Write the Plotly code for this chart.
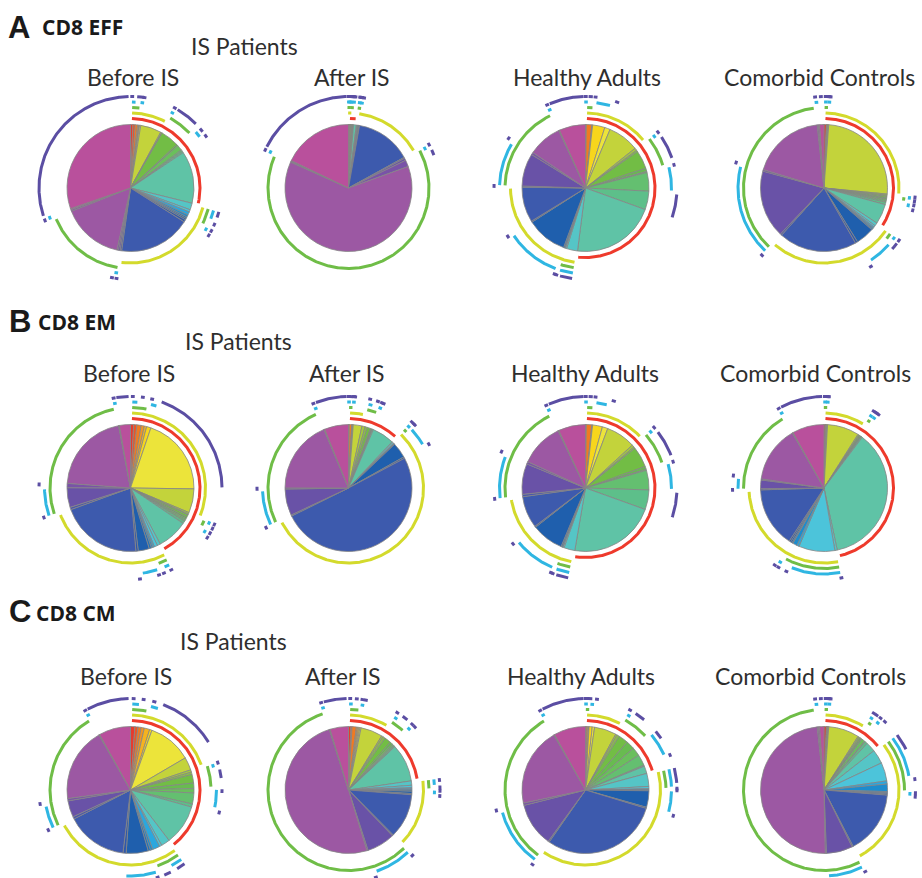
import numpy as np
import plotly.graph_objects as go

W, H = 922, 878

# Boolean subsets of five markers (+ = positive), all-negative subset excluded
CATEGORIES = [
    "+++++", "++++-", "+++-+", "+++--", "++-++", "++-+-", "++--+", "++---",
    "+-+++", "+-++-", "+-+-+", "+-+--", "+--++", "+--+-", "+---+", "+----",
    "-++++", "-+++-", "-++-+", "-++--", "-+-++", "-+-+-", "-+--+", "-+---",
    "--+++", "--++-", "--+-+", "--+--", "---++", "---+-", "----+",
]

PALETTE = [
    "#e63b2e", "#eb5527", "#f07a22", "#f39621", "#f5b31f", "#f7d61c", "#ece43a", "#c3d33b",
    "#a6ca3d", "#8cc342", "#72bd45", "#68bb50", "#6abf5c", "#64bf70", "#5dbf8a", "#5fc3a6",
    "#55c5c6", "#4cc4da", "#2ba7de", "#1d8ccd", "#1f72bb", "#1f5fad", "#3058aa", "#3d5aad",
    "#4b56ab", "#6952a7", "#7953a7", "#9c58a3", "#8a55a5", "#a656a1", "#b9509c",
]

# arc colour for each marker, innermost ring first
RING_COLORS = ["#ee3a2c", "#d3da2c", "#6fbd47", "#2fb6e2", "#5b4ea3"]

GROUPS = ["Before IS", "After IS", "Healthy Adults", "Comorbid Controls"]
PANELS = [("A", "CD8 EFF"), ("B", "CD8 EM"), ("C", "CD8 CM")]
SUPER_TITLE = "IS Patients"

# % of cells in each subset
EFF_BEFORE = [0.6, 0.6, 0.6, 0.3, 0.1, 0.1, 0.3, 5.3, 0.3, 0.1, 4.7, 0.4, 1.4, 0.4, 0.4, 13.3,
              1.7, 0.6, 0.8, 0.6, 0.4, 0.4, 0.6, 18.3, 0.4, 0.4, 0.4, 15.6, 0.4, 0.3, 30.3]
EFF_AFTER = [0.08, 0.06, 0.06, 0.06, 0.06, 0.06, 0.06, 0.08, 0.06, 0.06, 0.22, 0.06, 0.14, 0.08, 0.14, 0.69,
             0.14, 0.08, 0.08, 0.08, 0.08, 0.22, 0.14, 14.2, 0.28, 0.56, 1.67, 62.2, 0.28, 0.14, 17.9]
EFF_HEALTHY = [0.1, 0.1, 1.4, 0.1, 0.1, 3.1, 1.4, 7.9, 0.6, 0.4, 4.7, 0.8, 0.3, 4.7, 4.7, 21.4,
               2.8, 0.3, 0.1, 0.1, 0.3, 10.3, 0.3, 8.9, 0.3, 8.3, 0.6, 8.6, 0.1, 0.1, 6.7]
EFF_COMORBID = [0.6, 0.1, 0.1, 0.1, 0.1, 0.1, 0.1, 25.3, 0.3, 0.3, 0.4, 0.3, 0.4, 0.4, 0.6, 5.1,
                0.8, 0.4, 0.3, 0.3, 0.3, 4.7, 0.6, 19.9, 0.4, 17.2, 0.4, 18.6, 0.3, 0.3, 1.1]

EM_BEFORE = [0.8, 0.8, 1.1, 0.8, 0.6, 1.1, 20.0, 6.1, 0.4, 0.3, 0.6, 0.4, 0.4, 0.4, 0.6, 7.8,
             0.8, 0.8, 0.4, 0.4, 0.6, 2.8, 0.6, 20.8, 0.6, 5.0, 1.1, 20.8, 0.1, 0.1, 2.8]
EM_AFTER = [0.1, 0.1, 0.6, 0.1, 0.1, 0.1, 0.1, 2.2, 0.8, 0.6, 0.8, 0.3, 0.1, 0.1, 0.3, 5.6,
            0.3, 0.3, 0.1, 0.1, 0.1, 3.9, 0.4, 50.3, 0.3, 6.7, 0.3, 18.6, 0.1, 0.1, 6.1]
EM_HEALTHY = [0.1, 0.1, 1.4, 0.1, 0.1, 2.5, 1.4, 7.5, 0.6, 0.4, 5.3, 0.7, 0.3, 5.0, 5.0, 22.2,
              2.8, 0.3, 0.1, 0.1, 0.3, 8.1, 0.3, 8.1, 0.6, 7.8, 0.6, 11.1, 0.1, 0.1, 6.9]
EM_COMORBID = [0.3, 0.1, 0.1, 0.1, 0.1, 0.1, 0.1, 8.1, 0.3, 0.1, 0.3, 0.1, 0.1, 0.1, 0.3, 36.4,
               0.6, 9.2, 0.6, 1.1, 0.3, 0.4, 0.4, 15.3, 0.3, 2.2, 0.3, 14.4, 0.1, 0.1, 8.1]

CM_BEFORE = [1.1, 0.8, 0.8, 0.8, 1.4, 0.6, 11.1, 3.3, 0.6, 0.6, 2.2, 1.4, 1.1, 2.8, 0.8, 10.3,
             2.2, 0.6, 1.9, 0.6, 0.6, 5.6, 0.8, 15.6, 0.6, 4.2, 0.6, 18.9, 0.1, 0.1, 8.1]
CM_AFTER = [0.6, 0.3, 1.1, 0.3, 0.3, 0.3, 0.3, 5.6, 0.4, 0.6, 1.7, 0.6, 0.4, 0.3, 0.3, 9.7,
            1.1, 0.6, 0.3, 0.3, 0.3, 0.6, 0.3, 11.4, 0.3, 7.2, 0.3, 50.0, 0.1, 0.1, 4.7]
CM_HEALTHY = [0.1, 0.1, 0.3, 0.3, 0.1, 0.8, 0.6, 5.6, 0.4, 0.6, 2.5, 2.2, 2.2, 2.8, 0.3, 1.9,
              3.3, 0.6, 0.1, 0.1, 0.3, 4.2, 0.3, 30.0, 0.3, 11.1, 0.6, 20.0, 0.1, 0.1, 8.1]
CM_COMORBID = [0.6, 0.1, 0.1, 0.1, 0.1, 0.1, 0.1, 7.8, 0.3, 0.3, 0.3, 0.3, 0.8, 0.3, 0.6, 2.5,
               3.6, 4.7, 0.8, 1.9, 0.3, 0.3, 0.3, 16.1, 0.3, 6.7, 0.3, 48.6, 0.3, 0.3, 1.1]

VALUES = [
    [EFF_BEFORE, EFF_AFTER, EFF_HEALTHY, EFF_COMORBID],
    [EM_BEFORE, EM_AFTER, EM_HEALTHY, EM_COMORBID],
    [CM_BEFORE, CM_AFTER, CM_HEALTHY, CM_COMORBID],
]

# geometry in pixels
COL_X = [130.5, 348.5, 585.5, 824.0]
ROW_Y = [188.0, 488.0, 790.0]
PIE_R = 63.5
RING_R = [69.5, 75.0, 80.5, 86.0, 91.5]
RING_W = 3.0
GAP = 1.2       # degrees trimmed from each end of an arc
MIN_ARC = 2.4   # shortest arc drawn, degrees

TEXT = "#2e2e2e"
FONT = "Lato"


def px_domain(cx, cy, r):
    return dict(x=[(cx - r) / W, (cx + r) / W],
                y=[1 - (cy + r) / H, 1 - (cy - r) / H])


def marker_runs(vals, k):
    """Runs of consecutive subsets that are positive for marker k."""
    runs, start, end = [], None, None
    for i, cat in enumerate(CATEGORIES):
        if cat[k] == "+" and vals[i] > 0:
            if start is None:
                start = i
            end = i
        elif start is not None:
            runs.append((start, end))
            start = None
    if start is not None:
        runs.append((start, end))
    return runs


fig = go.Figure()
for ri, row in enumerate(VALUES):
    for ci, vals in enumerate(row):
        cx, cy = COL_X[ci], ROW_Y[ri]

        fig.add_trace(go.Pie(
            values=vals, labels=CATEGORIES,
            marker=dict(colors=PALETTE, line=dict(color="#858585", width=0.8)),
            sort=False, direction="clockwise", rotation=0,
            textinfo="none", hoverinfo="label+percent",
            domain=px_domain(cx, cy, PIE_R), showlegend=False,
        ))

        total = sum(vals)
        edges = np.concatenate([[0.0], np.cumsum(vals)]) * 360.0 / total

        # marker arcs around the pie, drawn on a pixel-scaled overlay axis
        for k in range(5):
            xs, ys = [], []
            for s, e in marker_runs(vals, k):
                a0, a1 = edges[s], edges[e + 1]
                mid = (a0 + a1) / 2
                half = max(a1 - a0 - 2 * GAP, MIN_ARC) / 2
                t = np.radians(np.linspace(mid - half, mid + half, max(3, int(2 * half / 0.5) + 1)))
                xs += list(cx + RING_R[k] * np.sin(t)) + [None]
                ys += list(cy - RING_R[k] * np.cos(t)) + [None]
            fig.add_trace(go.Scatter(
                x=xs, y=ys, mode="lines",
                line=dict(color=RING_COLORS[k], width=RING_W),
                hoverinfo="skip", showlegend=False,
            ))

annotations = []


def add_text(x, y, text, size, anchor="center", family=FONT, color=TEXT):
    annotations.append(dict(
        x=x / W, y=1 - y / H, xref="paper", yref="paper", text=text, showarrow=False,
        xanchor=anchor, yanchor="middle", font=dict(family=family, size=size, color=color),
    ))


LETTER_POS = [(19, 27), (20, 322), (20, 611)]
LABEL_POS = [(40, 27), (36, 322), (34, 613)]
SUPER_POS = [(244, 46), (238, 341), (233, 641)]
TITLE_Y = [77, 373, 676]
TITLE_X = [[133, 352, 587, 819], [129, 347, 585, 815], [126, 343, 581, 810]]

for ri, (letter, label) in enumerate(PANELS):
    add_text(*LETTER_POS[ri], f"<b>{letter}</b>", 31, family="Liberation Sans", color="#1a1a1a")
    add_text(*LABEL_POS[ri], f"<b>{label}</b>", 21, anchor="left", family="Open Sans", color="#1a1a1a")
    add_text(*SUPER_POS[ri], SUPER_TITLE, 23)
    for ci, g in enumerate(GROUPS):
        add_text(TITLE_X[ri][ci], TITLE_Y[ri], g, 23)

fig.update_layout(
    width=W, height=H, margin=dict(l=0, r=0, t=0, b=0),
    paper_bgcolor="white", plot_bgcolor="rgba(0,0,0,0)", showlegend=False,
    xaxis=dict(range=[0, W], visible=False, fixedrange=True, domain=[0, 1]),
    yaxis=dict(range=[H, 0], visible=False, fixedrange=True, domain=[0, 1]),
    annotations=annotations,
)

fig.write_html("out.html")
